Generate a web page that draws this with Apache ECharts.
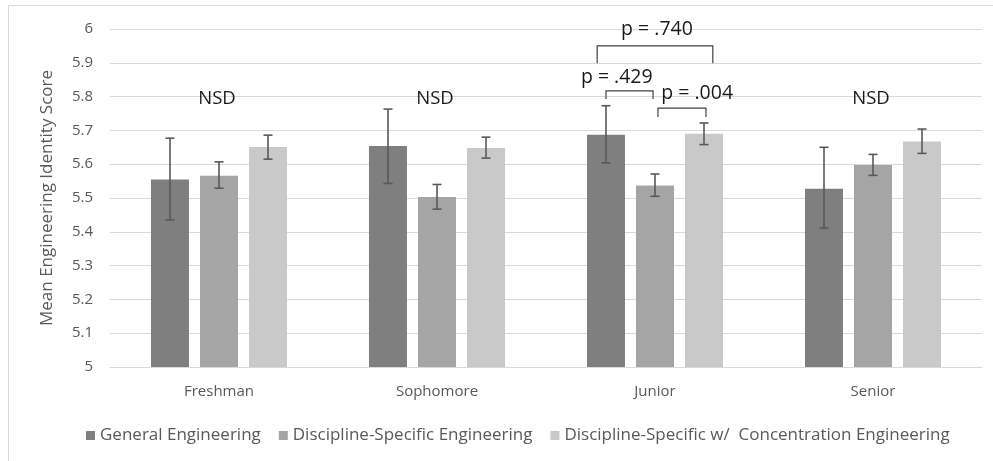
<!DOCTYPE html>
<html><head><meta charset="utf-8">
<script src="https://cdn.jsdelivr.net/npm/echarts@6/dist/echarts.min.js"></script>
<style>html,body{margin:0;padding:0;background:#fff}#c{width:993px;height:461px}</style>
</head><body><div id="c"></div>
<script>
var categories = ['Freshman', 'Sophomore', 'Junior', 'Senior'];
var seriesNames = ['General Engineering', 'Discipline-Specific Engineering', 'Discipline-Specific w/  Concentration Engineering'];
var generalMean = [5.555, 5.654, 5.687, 5.527];
var generalLow  = [5.435, 5.543, 5.604, 5.411];
var generalHigh = [5.677, 5.763, 5.773, 5.650];
var disciplineMean = [5.566, 5.503, 5.537, 5.598];
var disciplineLow  = [5.529, 5.467, 5.505, 5.567];
var disciplineHigh = [5.607, 5.540, 5.571, 5.629];
var concentrationMean = [5.651, 5.648, 5.690, 5.667];
var concentrationLow  = [5.615, 5.618, 5.658, 5.632];
var concentrationHigh = [5.686, 5.680, 5.722, 5.704];
var yTicks = ['5', '5.1', '5.2', '5.3', '5.4', '5.5', '5.6', '5.7', '5.8', '5.9', '6'];
// NSD labels: [category index, y value]
var nsdLabels = [[0, 5.793, 'NSD'], [1, 5.793, 'NSD'], [3, 5.793, 'NSD']];
// brackets: [category index, from bar slot, to bar slot, y of bar line, y of ends, label, label slot, label y]
var brackets = [
  [2, -1.18, 1.18, 5.950, 5.899, 'p = .740', 0.04, 5.998],
  [2, -1.00, -0.04, 5.817, 5.793, 'p = .429', -0.78, 5.858],
  [2, 0.06, 1.04, 5.766, 5.740, 'p = .004', 0.86, 5.808]
];

var colors = ['#7f7f7f', '#a5a5a5', '#c9c9c9'];
var BAR_W = 38, SLOT = 49;
var FONT = 'Open Sans';

function errorSeries(idx, low, high) {
  return {
    type: 'custom', z: 5, silent: true,
    data: categories.map(function (c, i) { return [i, low[i], high[i]]; }),
    renderItem: function (params, api) {
      var lo = api.coord([api.value(0), api.value(1)]);
      var hi = api.coord([api.value(0), api.value(2)]);
      var x = lo[0] + (idx - 1) * SLOT;
      var h = 4.5;
      var st = { stroke: '#595959', lineWidth: 1.6 };
      return { type: 'group', children: [
        { type: 'line', shape: { x1: x, y1: lo[1], x2: x, y2: hi[1] }, style: st },
        { type: 'line', shape: { x1: x - h, y1: lo[1], x2: x + h, y2: lo[1] }, style: st },
        { type: 'line', shape: { x1: x - h, y1: hi[1], x2: x + h, y2: hi[1] }, style: st }
      ]};
    }
  };
}

var chart = echarts.init(document.getElementById('c'));
chart.setOption({
  animation: false,
  textStyle: { fontFamily: FONT },
  graphic: [{ type: 'rect', shape: { x: 8.5, y: 5.5, width: 1000, height: 500 }, style: { fill: 'none', stroke: '#d9d9d9', lineWidth: 1 }, silent: true }],
  grid: { left: 110, right: 11, top: 29, bottom: 94 },
  legend: {
    data: seriesNames, left: 81, top: 422, icon: 'rect', itemWidth: 9, itemHeight: 9, itemGap: 18,
    textStyle: { color: '#595959', fontSize: 17, fontFamily: FONT }
  },
  xAxis: {
    type: 'category', data: categories,
    axisLine: { lineStyle: { color: '#d9d9d9', width: 1 } },
    axisTick: { show: false },
    axisLabel: { color: '#595959', fontSize: 15, margin: 17 }
  },
  yAxis: {
    type: 'value', min: 5, max: 6, interval: 0.1,
    name: 'Mean Engineering Identity Score', nameLocation: 'middle', nameGap: 54,
    nameTextStyle: { color: '#595959', fontSize: 17 },
    axisLine: { show: false }, axisTick: { show: false },
    axisLabel: { color: '#595959', fontSize: 15, margin: 17,
      formatter: function (v) { return yTicks[Math.round((v - 5) * 10)]; } },
    splitLine: { lineStyle: { color: '#d9d9d9', width: 1 } }
  },
  series: [
    { name: seriesNames[0], type: 'bar', data: generalMean, barWidth: BAR_W, barGap: '29%', itemStyle: { color: colors[0] } },
    { name: seriesNames[1], type: 'bar', data: disciplineMean, barWidth: BAR_W, barGap: '29%', itemStyle: { color: colors[1] } },
    { name: seriesNames[2], type: 'bar', data: concentrationMean, barWidth: BAR_W, barGap: '29%', itemStyle: { color: colors[2] } },
    errorSeries(0, generalLow, generalHigh),
    errorSeries(1, disciplineLow, disciplineHigh),
    errorSeries(2, concentrationLow, concentrationHigh),
    {
      type: 'custom', z: 6, silent: true, clip: false,
      data: nsdLabels,
      renderItem: function (params, api) {
        var p = api.coord([api.value(0), api.value(1)]);
        return { type: 'text', x: p[0] - 2, y: p[1], style: { text: nsdLabels[params.dataIndex][2], fill: '#1a1a1a', font: '18.5px "' + FONT + '"', align: 'center', verticalAlign: 'middle' } };
      }
    },
    {
      type: 'custom', z: 6, silent: true, clip: false,
      data: brackets.map(function (b) { return [b[0], b[3], b[4], b[7]]; }),
      renderItem: function (params, api) {
        var b = brackets[params.dataIndex];
        var top = api.coord([b[0], b[3]]);
        var end = api.coord([b[0], b[4]]);
        var lab = api.coord([b[0], b[7]]);
        var cx = top[0];
        var x1 = cx + b[1] * SLOT, x2 = cx + b[2] * SLOT;
        var st = { stroke: '#404040', lineWidth: 1.2, fill: 'none' };
        return { type: 'group', children: [
          { type: 'polyline', shape: { points: [[x1, end[1]], [x1, top[1]], [x2, top[1]], [x2, end[1]]] }, style: st },
          { type: 'text', x: cx + b[6] * SLOT, y: lab[1], style: { text: b[5], fill: '#1a1a1a', font: '19.5px "' + FONT + '"', align: 'center', verticalAlign: 'middle' } }
        ]};
      }
    }
  ]
});
</script></body></html>
